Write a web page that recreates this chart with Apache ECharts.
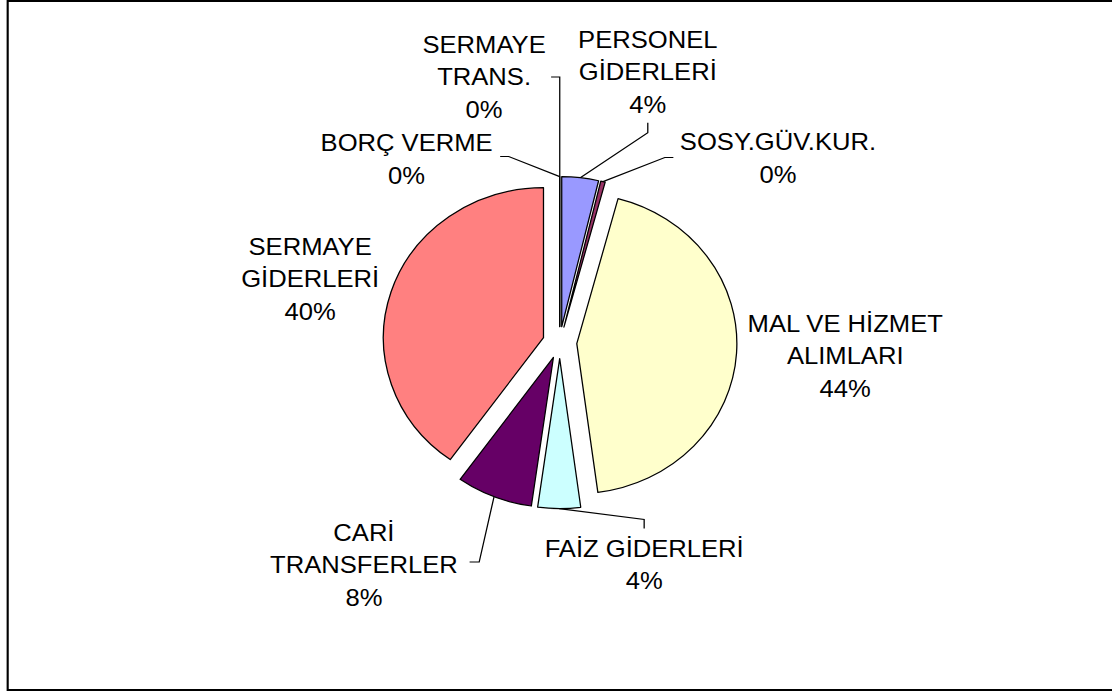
<!DOCTYPE html>
<html>
<head>
<meta charset="utf-8">
<script src="https://cdn.jsdelivr.net/npm/echarts@6/dist/echarts.min.js"></script>
<style>
  html, body { margin: 0; padding: 0; background: #fff; overflow: hidden; }
  /* the original picture is stretched a little horizontally */
  #chart { width: 1042px; height: 693px; transform: scaleX(1.0672); transform-origin: 0 0; }
</style>
</head>
<body>
<div id="chart"></div>
<script>
const categories = ['PERSONEL GİDERLERİ', 'SOSY.GÜV.KUR.', 'MAL VE HİZMET ALIMLARI', 'FAİZ GİDERLERİ',
  'CARİ TRANSFERLER', 'SERMAYE GİDERLERİ', 'BORÇ VERME', 'SERMAYE TRANS.'];
const labelLines = ['PERSONEL\nGİDERLERİ', 'SOSY.GÜV.KUR.', 'MAL VE HİZMET\nALIMLARI', 'FAİZ GİDERLERİ',
  'CARİ\nTRANSFERLER', 'SERMAYE\nGİDERLERİ', 'BORÇ VERME', 'SERMAYE\nTRANS.'];
const shares = [3.7, 0.45, 43.75, 4.3, 7.7, 40.1, 0, 0];

const sliceColors = ['#9999FF', '#993366', '#FFFFCC', '#CCFFFF', '#660066', '#FF8080', '#FFFFFF', '#FFFFFF'];

// where each label sits, and how its leader line bends (chart px, before the stretch)
const labelSpots = [
  { x: 607, y: 72, lead: 'below', gap: 2, arm: 10 },
  { x: 729, y: 158.5, lead: 'left', gap: 6, arm: 8, dy: -1 },
  { x: 792, y: 356 },
  { x: 603.6, y: 565, lead: 'above', gap: 4, arm: 9 },
  { x: 341, y: 565, lead: 'right', gap: 11, arm: 9, dy: -3 },
  { x: 290.6, y: 279 },
  { x: 381, y: 159.5, lead: 'right', gap: 7, arm: 8, dy: -3 },
  { x: 453.6, y: 77, lead: 'right', gap: 5, arm: 'up' }
];

const pieCenter = [524.5, 342.6];
const pieRadius = 150;
const explode = 16;

const chart = echarts.init(document.getElementById('chart'), null, { renderer: 'svg' });

const font = { fontFamily: 'Liberation Sans, Arial, sans-serif', fontSize: 24, lineHeight: 32.5, color: '#000' };

const option = {
  backgroundColor: '#fff',
  animation: false,
  graphic: [{
    // frame: left, top and bottom sides only, the right one is cut off in the original
    type: 'polyline', silent: true, z: -10,
    shape: { points: [[1100, 1], [7.2, 1], [7.2, 690], [1100, 690]] },
    style: { fill: 'none', stroke: '#000', lineWidth: 2 }
  }],
  series: [
    {
      // exploded slices
      type: 'pie',
      center: pieCenter,
      radius: pieRadius,
      selectedMode: 'multiple',
      selectedOffset: explode,
      silent: true,
      label: { show: false },
      labelLine: { show: false },
      emphasis: { disabled: true },
      itemStyle: { borderColor: '#000', borderWidth: 1.2 },
      select: { itemStyle: { borderColor: '#000', borderWidth: 1.2 } },
      data: categories.map((name, i) => ({
        name, value: shares[i], selected: true,
        itemStyle: { color: sliceColors[i] },
        select: { itemStyle: { color: sliceColors[i] } }
      }))
    },
    {
      // invisible ring at the exploded edge, only carries labels and leaders
      type: 'pie',
      center: pieCenter,
      radius: pieRadius + explode,
      silent: true,
      avoidLabelOverlap: false,
      emphasis: { disabled: true },
      itemStyle: { color: 'rgba(0,0,0,0)', borderWidth: 0 },
      label: Object.assign({
        show: true,
        position: 'outside',
        formatter: p => labelLines[p.dataIndex] + '\n' + Math.round(p.percent) + '%'
      }, font),
      labelLine: { show: true, length: 10, length2: 10, lineStyle: { color: '#000', width: 1.2 } },
      labelLayout: function (params) {
        const s = labelSpots[params.dataIndex];
        const w = params.labelRect.width, h = params.labelRect.height;
        const out = { x: s.x, y: s.y, align: 'center', verticalAlign: 'middle' };
        const pts = params.labelLinePoints;
        if (!s.lead || !pts) return out;
        const start = pts[0];
        const cy = s.y + (s.dy || 0);
        let elbow, end;
        if (s.lead === 'below') {
          end = [s.x, s.y + h / 2 + s.gap];
          elbow = [s.x, end[1] + s.arm];
        } else if (s.lead === 'above') {
          end = [s.x, s.y - h / 2 - s.gap];
          elbow = [s.x, end[1] - s.arm];
        } else if (s.lead === 'left') {
          end = [s.x - w / 2 - s.gap, cy];
          elbow = [end[0] - s.arm, cy];
        } else {
          end = [s.x + w / 2 + s.gap, cy];
          elbow = s.arm === 'up' ? [start[0], cy] : [end[0] + s.arm, cy];
        }
        out.labelLinePoints = [start, elbow, end];
        return out;
      },
      data: categories.map((name, i) => ({
        name, value: shares[i],
        labelLine: { show: !!labelSpots[i].lead }
      }))
    }
  ]
};

chart.setOption(option);
</script>
</body>
</html>
